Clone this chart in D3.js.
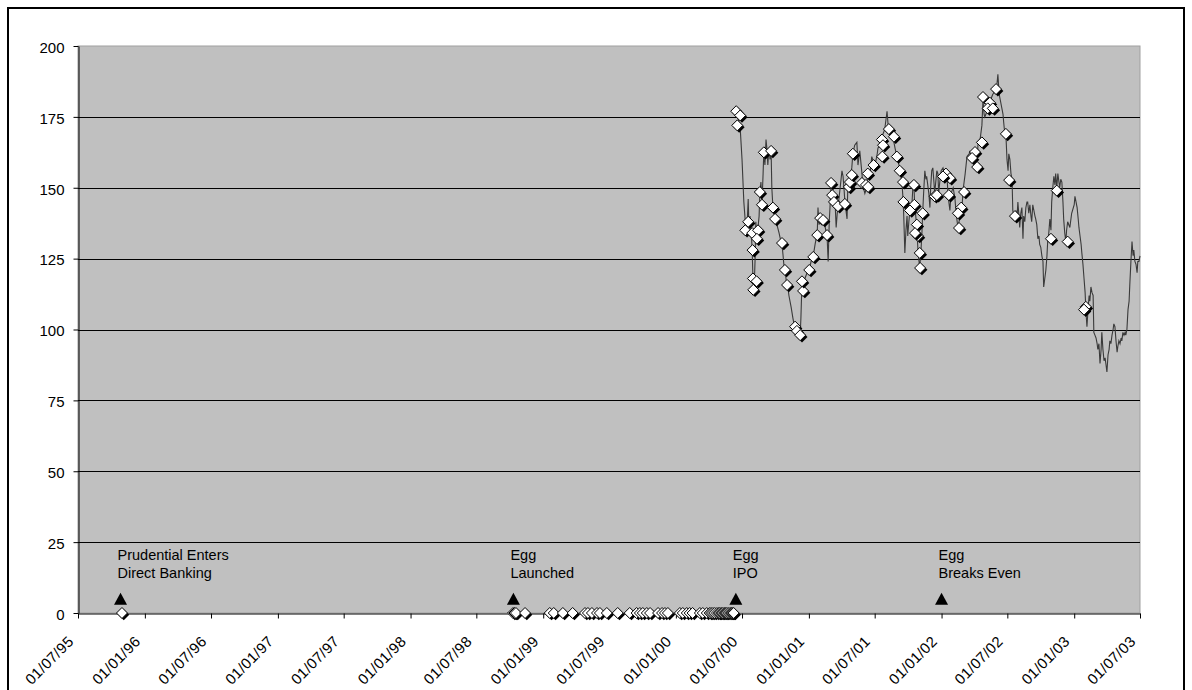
<!DOCTYPE html>
<html><head><meta charset="utf-8">
<script src="https://cdn.jsdelivr.net/npm/d3@7"></script>
<style>body{margin:0;background:#fff} svg{display:block} text{font-family:"Liberation Sans",Arial,sans-serif;fill:#000}</style>
</head><body><svg id="c" width="1192" height="690"></svg>
<script>
const yTicks = [0, 25, 50, 75, 100, 125, 150, 175, 200];
const xTickLabels = ["01/07/95","01/01/96","01/07/96","01/01/97","01/07/97","01/01/98","01/07/98","01/01/99","01/07/99","01/01/00","01/07/00","01/01/01","01/07/01","01/01/02","01/07/02","01/01/03","01/07/03"];

// share price (line)
const prices = [
["2000-06-12",177],["2000-06-15",177],["2000-06-18",175],["2000-06-21",174],["2000-06-23",172],["2000-06-26",171],["2000-07-01",160],["2000-07-06",145],["2000-07-10",138],["2000-07-14",134],["2000-07-18",146],["2000-07-20",136],["2000-07-23",140],["2000-07-26",135],["2000-07-29",128],["2000-07-31",118],["2000-08-03",113],["2000-08-06",125],["2000-08-08",138],["2000-08-11",132],["2000-08-14",136],["2000-08-17",140],["2000-08-19",148],["2000-08-22",152],["2000-08-25",145],["2000-08-28",155],["2000-08-30",163],["2000-09-02",158],["2000-09-05",167],["2000-09-08",163],["2000-09-10",158],["2000-09-13",164],["2000-09-16",160],["2000-09-19",163],["2000-09-21",150],["2000-09-24",143],["2000-09-27",141],["2000-09-30",139],["2000-10-05",137],["2000-10-11",134],["2000-10-16",131],["2000-10-19",130],["2000-10-22",126],["2000-10-24",123],["2000-10-27",121],["2000-10-30",118],["2000-11-02",114],["2000-11-04",115],["2000-11-07",112],["2000-11-13",108],["2000-11-18",104],["2000-11-21",102],["2000-11-24",101],["2000-11-29",99],["2000-12-02",98],["2000-12-05",100],["2000-12-08",98],["2000-12-10",104],["2000-12-13",117],["2000-12-16",113],["2000-12-21",118],["2000-12-27",120],
["2001-01-02",121],["2001-01-07",124],["2001-01-13",126],["2001-01-18",130],["2001-01-24",134],["2001-01-26",143],["2001-01-29",137],["2001-02-01",140],["2001-02-07",139],["2001-02-12",138],["2001-02-18",134],["2001-02-20",133],["2001-02-23",124],["2001-02-26",138],["2001-02-28",143],["2001-03-03",151],["2001-03-06",150],["2001-03-09",147],["2001-03-14",145],["2001-03-17",136],["2001-03-20",141],["2001-03-22",143],["2001-03-28",150],["2001-04-02",156],["2001-04-05",154],["2001-04-08",149],["2001-04-10",145],["2001-04-16",139],["2001-04-18",150],["2001-04-24",154],["2001-04-29",157],["2001-05-02",162],["2001-05-07",165],["2001-05-13",166],["2001-05-16",158],["2001-05-21",163],["2001-05-27",155],["2001-05-29",151],["2001-06-04",148],["2001-06-09",150],["2001-06-12",155],["2001-06-17",153],["2001-06-23",161],["2001-06-28",159],["2001-07-02",158],["2001-07-08",162],["2001-07-10",164],["2001-07-16",165],["2001-07-21",168],["2001-07-27",170],["2001-07-29",171],["2001-08-01",174],["2001-08-04",177],["2001-08-07",172],["2001-08-09",171],["2001-08-15",169],["2001-08-20",168],["2001-08-26",164],["2001-08-31",161],["2001-09-06",158],["2001-09-08",156],["2001-09-14",152],["2001-09-17",146],["2001-09-19",140],["2001-09-22",127],["2001-09-25",135],["2001-09-28",140],["2001-09-30",133],["2001-10-03",138],["2001-10-06",142],["2001-10-11",143],["2001-10-14",150],["2001-10-17",151],["2001-10-19",144],["2001-10-22",140],["2001-10-25",136],["2001-10-28",128],["2001-10-30",125],["2001-11-02",122],["2001-11-05",127],["2001-11-08",134],["2001-11-10",141],["2001-11-13",149],["2001-11-16",156],["2001-11-19",153],["2001-11-21",154],["2001-11-27",148],["2001-11-30",143],["2001-12-02",150],["2001-12-05",156],["2001-12-08",157],["2001-12-11",152],["2001-12-13",148],["2001-12-16",152],["2001-12-19",156],["2001-12-22",155],["2001-12-24",148],["2001-12-27",152],["2001-12-31",156],
["2002-01-05",157],["2002-01-11",154],["2002-01-16",154],["2002-01-19",147],["2002-01-24",142],["2002-01-27",148],["2002-02-02",150],["2002-02-07",146],["2002-02-10",141],["2002-02-15",136],["2002-02-21",140],["2002-02-26",142],["2002-03-01",149],["2002-03-07",155],["2002-03-12",161],["2002-03-18",162],["2002-03-20",163],["2002-03-26",160],["2002-03-29",159],["2002-04-03",162],["2002-04-09",157],["2002-04-11",165],["2002-04-17",167],["2002-04-22",172],["2002-04-25",181],["2002-04-28",176],["2002-04-30",175],["2002-05-06",177],["2002-05-11",179],["2002-05-14",180],["2002-05-19",182],["2002-05-22",183],["2002-05-28",184],["2002-06-02",186],["2002-06-05",190],["2002-06-08",184],["2002-06-10",182],["2002-06-16",178],["2002-06-19",176],["2002-06-21",173],["2002-06-24",169],["2002-06-27",169],["2002-06-30",160],["2002-07-03",156],["2002-07-05",162],["2002-07-08",160],["2002-07-11",155],["2002-07-14",153],["2002-07-16",142],["2002-07-19",140],["2002-07-22",139],["2002-07-25",142],["2002-07-27",138],["2002-07-30",145],["2002-08-02",140],["2002-08-04",136],["2002-08-07",141],["2002-08-10",143],["2002-08-13",132],["2002-08-15",140],["2002-08-18",138],["2002-08-21",143],["2002-08-24",145],["2002-08-26",145],["2002-08-29",141],["2002-09-01",144],["2002-09-04",140],["2002-09-06",138],["2002-09-09",144],["2002-09-12",142],["2002-09-15",140],["2002-09-17",139],["2002-09-20",137],["2002-09-23",132],["2002-09-26",133],["2002-09-28",130],["2002-10-01",129],["2002-10-04",126],["2002-10-07",124],["2002-10-09",115],["2002-10-12",118],["2002-10-15",121],["2002-10-18",126],["2002-10-20",131],["2002-10-23",134],["2002-10-26",139],["2002-10-29",135],["2002-10-31",145],["2002-11-03",150],["2002-11-06",154],["2002-11-09",151],["2002-11-11",155],["2002-11-14",150],["2002-11-17",155],["2002-11-20",152],["2002-11-22",150],["2002-11-25",153],["2002-11-28",152],["2002-12-01",145],["2002-12-03",139],["2002-12-06",134],["2002-12-09",131],["2002-12-11",135],["2002-12-14",138],["2002-12-20",136],["2002-12-25",141],
["2003-01-01",144],["2003-01-03",147],["2003-01-06",145],["2003-01-09",143],["2003-01-12",139],["2003-01-14",136],["2003-01-17",133],["2003-01-20",130],["2003-01-22",127],["2003-01-25",123],["2003-01-28",118],["2003-01-31",113],["2003-02-02",107],["2003-02-05",101],["2003-02-08",107],["2003-02-11",112],["2003-02-13",110],["2003-02-16",115],["2003-02-19",113],["2003-02-22",112],["2003-02-24",99],["2003-02-27",98],["2003-03-02",97],["2003-03-05",95],["2003-03-07",93],["2003-03-10",95],["2003-03-13",88],["2003-03-16",93],["2003-03-18",99],["2003-03-21",93],["2003-03-24",89],["2003-03-27",90],["2003-03-29",88],["2003-04-01",85],["2003-04-04",91],["2003-04-07",93],["2003-04-09",96],["2003-04-12",95],["2003-04-15",98],["2003-04-18",100],["2003-04-20",102],["2003-04-23",101],["2003-04-26",96],["2003-04-29",92],["2003-05-01",94],["2003-05-04",96],["2003-05-07",95],["2003-05-10",97],["2003-05-12",96],["2003-05-15",99],["2003-05-18",98],["2003-05-21",99],["2003-05-23",98],["2003-05-26",100],["2003-05-29",107],["2003-06-01",110],["2003-06-03",116],["2003-06-06",124],["2003-06-09",131],["2003-06-12",126],["2003-06-14",128],["2003-06-17",124],["2003-06-20",123],["2003-06-23",120],["2003-06-25",124],["2003-06-28",124],["2003-07-01",126]
];

// news events (diamond markers)
const events = [
["1995-10-30",0],["1998-10-10",0],["1998-10-14",0],["1998-10-18",0],["1998-11-12",0],
["1999-01-19",0],["1999-01-30",0],["1999-02-24",0],["1999-03-23",0],["1999-04-26",0],["1999-05-04",0],["1999-05-15",0],["1999-05-29",0],["1999-06-06",0],["1999-06-25",0],["1999-07-25",0],["1999-08-27",0],["1999-09-15",0],["1999-09-24",0],["1999-10-02",0],["1999-10-13",0],["1999-10-22",0],["1999-11-13",0],["1999-11-24",0],["1999-12-02",0],["1999-12-10",0],
["2000-01-12",0],["2000-01-20",0],["2000-01-31",0],["2000-02-08",0],["2000-02-16",0],["2000-03-07",0],["2000-03-15",0],["2000-03-26",0],["2000-04-03",0],["2000-04-07",0],["2000-04-12",0],["2000-04-17",0],["2000-04-23",0],["2000-04-28",0],["2000-05-01",0],["2000-05-05",0],["2000-05-09",0],["2000-05-13",0],["2000-05-16",0],["2000-05-20",0],["2000-05-24",0],["2000-05-29",0],["2000-06-01",0],["2000-06-03",0],["2000-06-06",0],["2000-06-08",0],
["2000-06-15",177],["2000-06-26",175.5],["2000-06-18",172],["2000-07-18",138],["2000-07-10",135],["2000-07-29",134],["2000-08-14",135],["2000-08-11",132],["2000-07-30",128],["2000-07-31",118],["2000-08-10",117],["2000-08-01",114],["2000-08-19",148.5],["2000-08-25",144],["2000-08-30",162.5],["2000-09-19",163],["2000-09-24",143],["2000-09-30",139],["2000-10-19",130.5],["2000-10-27",121],["2000-11-02",115.7],["2000-11-24",101],["2000-11-29",99.5],["2000-12-08",98],["2000-12-16",113.6],["2000-12-13",117],
["2001-01-02",121],["2001-01-13",125.6],["2001-01-24",133.3],["2001-02-20",133.3],["2001-02-01",139.3],["2001-02-09",138.6],["2001-03-03",151.7],["2001-03-06",147.4],["2001-03-11",145],["2001-03-22",143.5],["2001-04-10",144.3],["2001-04-21",150.3],["2001-04-24",152],["2001-04-29",154.5],["2001-05-02",162],["2001-05-27",151.7],["2001-06-07",151],["2001-06-12",155],["2001-06-13",150.3],["2001-06-28",158],["2001-07-21",167],["2001-07-24",165],["2001-07-22",161],["2001-08-09",170.7],["2001-08-23",168],["2001-08-31",161],["2001-09-08",156],["2001-09-17",152],["2001-10-17",151],["2001-09-18",145],["2001-10-18",144],["2001-10-06",142],["2001-11-10",141],["2001-10-25",137],["2001-10-28",133],["2001-10-20",134],["2001-11-02",127],["2001-11-03",121.7],["2001-12-13",147],["2001-12-19",147.4],
["2002-01-13",155],["2002-01-24",153.4],["2002-01-05",154],["2002-01-21",147.4],["2002-03-04",148.5],["2002-02-24",143],["2002-02-15",141],["2002-02-18",135.8],["2002-04-22",166],["2002-04-03",162.6],["2002-03-26",160.5],["2002-04-09",157.3],["2002-04-25",182],["2002-05-14",180],["2002-05-08",178],["2002-05-22",178],["2002-05-31",184.8],["2002-06-27",169],["2002-07-06",152.7],["2002-07-22",140],["2002-10-29",132],["2002-11-14",149],["2002-12-14",131],
["2003-02-02",108],["2003-01-28",107]
];

// milestones (triangles)
const milestoneDates = ["1995-10-26","1998-10-11","2000-06-14","2002-01-01"];
const milestoneLabels = [["Prudential Enters","Direct Banking"],["Egg","Launched"],["Egg","IPO"],["Egg","Breaks Even"]];
const milestoneValue = 5;

const svg = d3.select("#c");
const parse = d3.utcParse("%Y-%m-%d");
const parseTick = d3.utcParse("%d/%m/%y");
const tickDates = xTickLabels.map(parseTick);
const L = 78, R = 1140, T = 46, B = 613;
const x = d3.scaleUtc().domain([tickDates[0], tickDates[tickDates.length-1]]).range([L, R]);
const y = d3.scaleLinear().domain([0, 200]).range([B, T]);

// chart area border
svg.append("rect").attr("x",8).attr("y",8).attr("width",1176).attr("height",700)
  .attr("fill","#fff").attr("stroke","#000").attr("stroke-width",2);

// plot area
svg.append("rect").attr("x",L).attr("y",T).attr("width",R-L).attr("height",B-T)
  .attr("fill","#c0c0c0").attr("stroke","#a0a0a0").attr("stroke-width",1);

// gridlines
svg.append("g").selectAll("line").data(yTicks.filter(v=>v>0 && v<200)).join("line")
  .attr("x1",L).attr("x2",R)
  .attr("y1",d=>Math.round(y(d))+0.5).attr("y2",d=>Math.round(y(d))+0.5)
  .attr("stroke","#000").attr("stroke-width",1);

// y axis
const gy = svg.append("g").attr("transform",`translate(${L+0.5},0)`)
  .call(d3.axisLeft(y).tickValues(yTicks).tickSize(5).tickSizeOuter(0).tickPadding(9));
gy.selectAll("path,line").attr("stroke","#000");
gy.selectAll("text").attr("font-size",15).attr("font-family","Liberation Sans, Arial, sans-serif").attr("dy","0.42em");

// x axis
const gx = svg.append("g").attr("transform",`translate(0,${B+0.5})`)
  .call(d3.axisBottom(x).tickValues(tickDates).tickSize(5).tickSizeOuter(0).tickFormat((d,i)=>xTickLabels[i]));
gx.selectAll("path,line").attr("stroke","#000");
gx.selectAll("text").attr("font-size",15).attr("font-family","Liberation Sans, Arial, sans-serif")
  .attr("letter-spacing","0.3px")
  .attr("text-anchor","end").attr("x",0).attr("y",0).attr("dy",0)
  .attr("transform","translate(-4,29) rotate(-45)");

// price line
const line = d3.line().x(d=>x(parse(d[0]))).y(d=>y(d[1]));
svg.append("path").datum(prices).attr("d",line)
  .attr("fill","none").attr("stroke","#3a3a3a").attr("stroke-width",1.1);

// diamonds
const dm = "M0,-5.5L5.5,0L0,5.5L-5.5,0Z";
const eg = svg.append("g").selectAll("g").data(events).join("g")
  .attr("transform",d=>`translate(${x(parse(d[0]))},${y(d[1])})`);
eg.append("path").attr("d",dm).attr("transform","translate(1.8,1.8)").attr("fill","#000");
eg.append("path").attr("d",dm).attr("fill","#fff").attr("stroke","#000").attr("stroke-width",1);

// milestones
const mg = svg.append("g").selectAll("g").data(milestoneDates).join("g")
  .attr("transform",d=>`translate(${x(parse(d))},${y(milestoneValue)})`);
mg.append("path").attr("d","M0,-6L6.5,6L-6.5,6Z").attr("fill","#000");
mg.each(function(d,i){
  const g = d3.select(this);
  milestoneLabels[i].forEach((t,j)=>{
    g.append("text").attr("x",-3).attr("y",-39 + j*18).attr("font-size",14.5).text(t);
  });
});
</script></body></html>
